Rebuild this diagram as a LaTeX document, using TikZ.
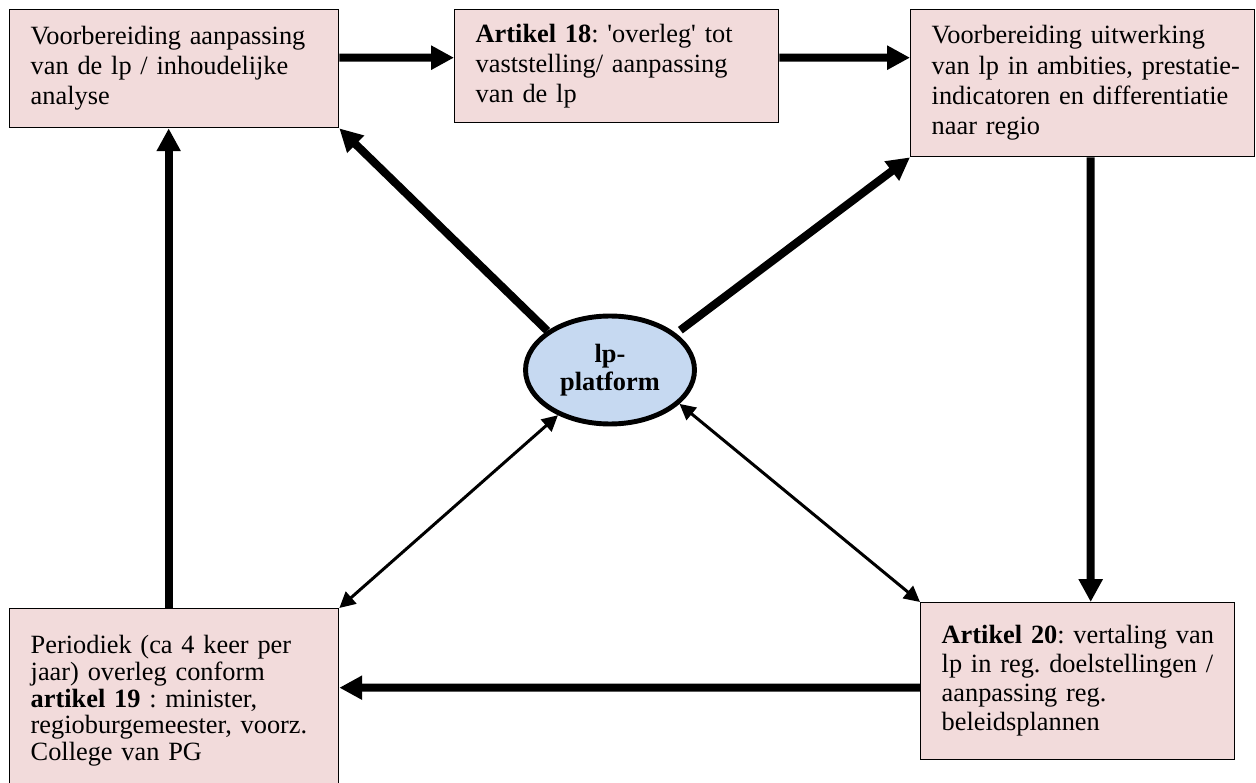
\documentclass[tikz,border=0pt]{standalone}
\usepackage{fontspec}
\setmainfont{Liberation Serif}
\usetikzlibrary{shapes.geometric,arrows.meta,calc}

\definecolor{vakroze}{HTML}{F2DBDB}
\definecolor{platblauw}{HTML}{C6D9F1}

% regels zonder afbreken
\newcommand{\regels}[1]{\begin{tabular}{@{}l@{}}#1\end{tabular}}

\tikzset{
  vak/.style={draw, line width=0.8pt, fill=vakroze, anchor=north west, align=left,
    inner xsep=0.42cm, inner ysep=0pt, font=\fontsize{15}{17.2}\selectfont\frenchspacing},
  platvorm/.style={ellipse, draw, line width=2.8pt, fill=platblauw, inner sep=0pt,
    minimum width=3.38cm, minimum height=2.16cm, align=center,
    font=\fontsize{15}{16.2}\selectfont\bfseries},
  dikpijl/.style={line width=4.6pt, -{Triangle[width=13pt,length=13pt]}},
  dunpijl/.style={line width=1.7pt, {Triangle[width=9pt,length=9pt]}-{Triangle[width=9pt,length=9pt]}}
}

\begin{document}
\begin{tikzpicture}[x=0.02cm, y=-0.02cm]
  \useasboundingbox (0,0) rectangle (1256,783);

  % Vakken
  \node[vak, text width=5.74cm, minimum width=6.58cm, minimum height=2.36cm] (voorb) at (9,9)
    {\regels{Voorbereiding aanpassing\\van de lp / inhoudelijke\\analyse}};
  \node[vak, text width=5.64cm, minimum width=6.48cm, minimum height=2.26cm] (art18) at (454,9)
    {\regels{\textbf{Artikel 18}: \textquotesingle overleg\textquotesingle\ tot\\vaststelling/ aanpassing\\van de lp}};
  \node[vak, text width=6.04cm, minimum width=6.88cm, minimum height=2.94cm] (uitw) at (910,9)
    {\regels{Voorbereiding uitwerking\\van lp in ambities, prestatie-\\indicatoren en differentiatie\\naar regio}};
  \node[vak, text width=5.74cm, minimum width=6.58cm, minimum height=3.72cm,
    font=\fontsize{15}{15.3}\selectfont\frenchspacing] (art19) at (9,608)
    {\regels{Periodiek (ca 4 keer per\\jaar) overleg conform\\\textbf{artikel 19} : minister,\\regioburgemeester, voorz.\\College van PG}};
  \node[vak, text width=5.44cm, minimum width=6.28cm, minimum height=3.14cm,
    font=\fontsize{15}{16.6}\selectfont\frenchspacing] (art20) at (920,602)
    {\regels{\textbf{Artikel 20}: vertaling van\\lp in reg. doelstellingen /\\aanpassing reg.\\beleidsplannen}};

  % Platform in het midden
  \node[platvorm] (plat) at (610,370) {lp-\\platform};

  % Cyclus
  \draw[dikpijl] ($(voorb.east)+(0,-11)$) -- ($(art18.west)+(0,-8.5)$);
  \draw[dikpijl] ($(art18.east)+(0,-8.5)$) -- ($(uitw.west)+(0,-25.5)$);
  \draw[dikpijl] ($(uitw.south)+(8,0)$) -- ($(art20.north)+(13,0)$);
  \draw[dikpijl] ($(art20.west)+(0,6.5)$) -- ($(art19.east)+(0,-14)$);
  \draw[dikpijl] ($(art19.north)+(-5.5,0)$) -- ($(voorb.south)+(-5.5,0)$);

  % Vanuit het platform
  \draw[dikpijl] (plat.148) -- (voorb.south east);
  \draw[dikpijl, shorten <=3pt] (plat.29) -- (uitw.south west);
  \draw[dunpijl] (plat.221) -- (art19.north east);
  \draw[dunpijl] (plat.334) -- (art20.north west);
\end{tikzpicture}
\end{document}
